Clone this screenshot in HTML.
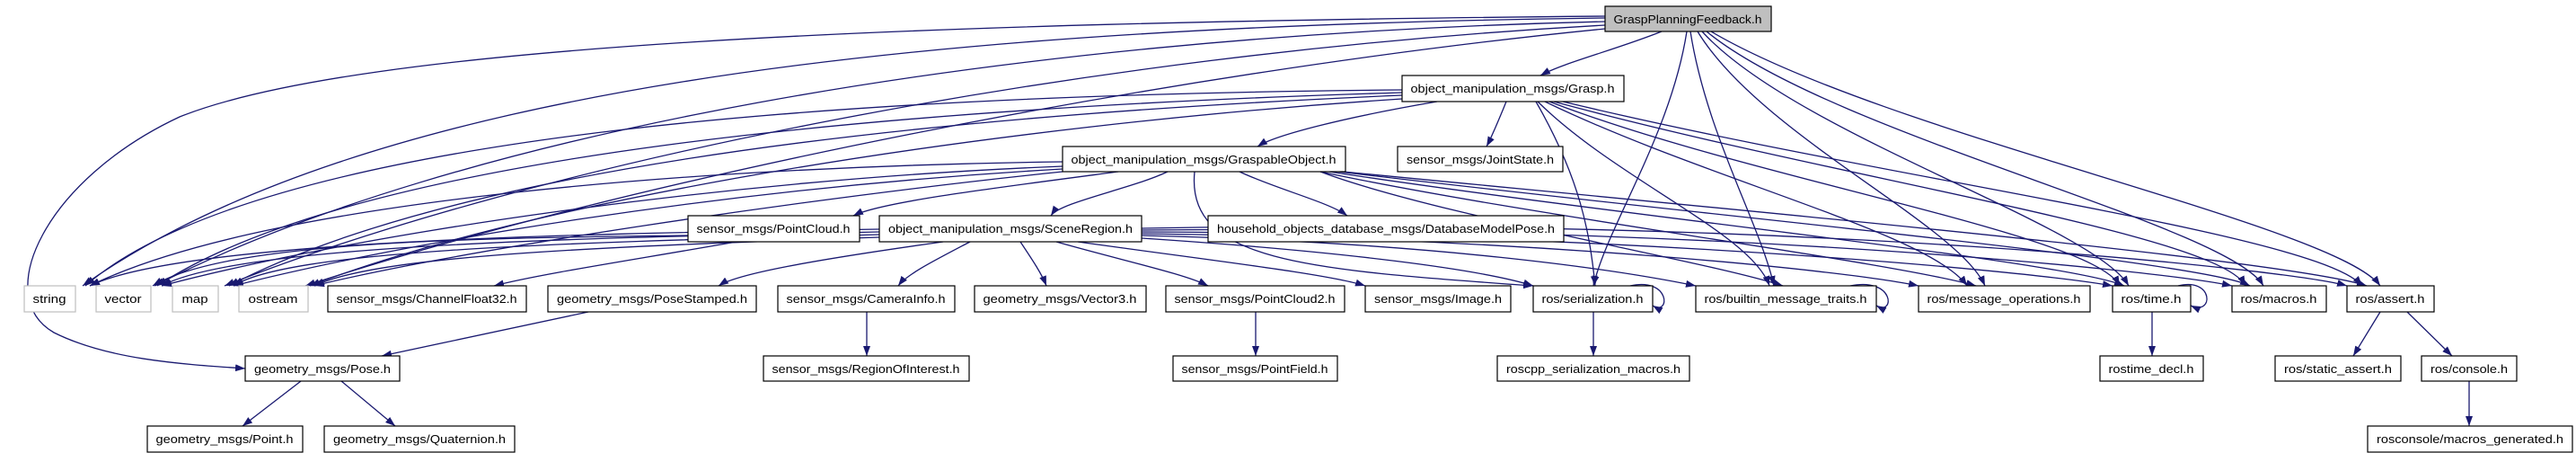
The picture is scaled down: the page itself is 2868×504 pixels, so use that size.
<!DOCTYPE html>
<html><head><meta charset="utf-8"><style>
html,body{margin:0;padding:0;background:#fff;}
svg{display:block}
text{font-family:"Liberation Sans",sans-serif;font-size:13px;fill:#000;}
</style></head><body>
<svg width="2868" height="504" viewBox="0 0 2868 504" xmlns="http://www.w3.org/2000/svg">
<defs>
<marker id="a" markerWidth="11" markerHeight="8" refX="11" refY="4" orient="auto" markerUnits="userSpaceOnUse"><path d="M0,0 L11,4 L0,8 z" fill="#191970"/></marker>
</defs>
<g fill="none" stroke="#191970" stroke-width="1.3" marker-end="url(#a)">
<!-- root -->
<path d="M1850,35 C1800,55 1740,70 1715,84"/>
<path d="M1878,35 C1860,150 1790,250 1774,318"/>
<path d="M1882,35 C1900,150 1960,250 1975,318"/>
<path d="M1890,35 C1960,150 2180,250 2210,318"/>
<path d="M1895,35 C2000,150 2330,250 2370,318"/>
<path d="M1900,35 C2040,150 2480,250 2520,318"/>
<path d="M1905,35 C2100,150 2600,250 2650,318"/>
<path d="M1787,20 C1000,30 400,100 92,318"/>
<path d="M1787,24 C1100,40 500,150 172,318"/>
<path d="M1787,28 C1200,60 600,180 250,318"/>
<path d="M1787,32 C1300,80 700,200 340,318"/>
<path d="M1787,18 C1000,25 400,50 200,130 C50,200 -10,330 60,370 C120,400 200,405 273,410"/>
<!-- grasp -->
<path d="M1600,113 C1500,130 1420,150 1400,163"/>
<path d="M1677,113 C1670,130 1662,150 1655,163"/>
<path d="M1561,100 C1000,105 300,140 95,318"/>
<path d="M1561,103 C1000,120 400,170 175,318"/>
<path d="M1561,106 C1000,130 500,190 255,318"/>
<path d="M1561,110 C1100,140 600,220 345,318"/>
<path d="M1710,113 C1760,200 1770,260 1776,318"/>
<path d="M1712,113 C1800,200 1950,260 1970,318"/>
<path d="M1720,113 C1900,200 2150,260 2190,318"/>
<path d="M1725,113 C1950,200 2330,260 2360,318"/>
<path d="M1730,113 C2050,200 2470,260 2500,318"/>
<path d="M1740,113 C2100,200 2580,260 2630,318"/>
<!-- graspable -->
<path d="M1245,191 C1100,210 980,225 950,240"/>
<path d="M1300,191 C1260,210 1180,225 1170,240"/>
<path d="M1380,191 C1420,210 1480,225 1500,240"/>
<path d="M1183,180 C800,185 300,220 100,318"/>
<path d="M1183,185 C800,200 400,260 180,318"/>
<path d="M1183,188 C800,210 450,270 260,318"/>
<path d="M1183,191 C900,220 500,280 350,318"/>
<path d="M1330,191 C1320,290 1450,300 1707,318"/>
<path d="M1470,191 C1600,240 1900,290 1985,318"/>
<path d="M1470,191 C1700,240 2100,290 2200,318"/>
<path d="M1480,191 C1800,240 2300,290 2365,318"/>
<path d="M1490,191 C1900,240 2450,290 2505,318"/>
<path d="M1495,191 C2000,240 2550,290 2635,318"/>
<!-- scene -->
<path d="M979,255 C600,260 200,270 100,318"/>
<path d="M979,258 C600,265 260,275 180,318"/>
<path d="M979,261 C600,270 320,280 260,318"/>
<path d="M979,264 C650,275 420,285 350,318"/>
<path d="M1050,269 C900,290 820,305 800,318"/>
<path d="M1080,269 C1040,290 1010,305 1000,318"/>
<path d="M1136,269 C1150,290 1160,305 1165,318"/>
<path d="M1176,269 C1250,290 1320,305 1345,318"/>
<path d="M1200,269 C1350,290 1480,305 1520,318"/>
<path d="M1271,265 C1500,280 1650,300 1707,318"/>
<path d="M1271,262 C1600,270 1800,300 1888,318"/>
<path d="M1271,260 C1700,265 2050,300 2136,318"/>
<path d="M1271,258 C1800,260 2250,300 2352,318"/>
<path d="M1271,256 C1900,250 2400,300 2485,318"/>
<path d="M1271,254 C2000,240 2550,300 2613,318"/>
<!-- pointcloud -->
<path d="M820,269 C700,290 600,305 550,318"/>
<path d="M766,262 C500,265 250,270 170,318"/>
<!-- others -->
<path d="M655,347 L425,396"/>
<path d="M335,424 L270,474"/>
<path d="M380,424 L440,474"/>
<path d="M965,347 L965,396"/>
<path d="M1398,347 L1398,396"/>
<path d="M1774,347 L1774,396"/>
<path d="M2396,347 L2396,396"/>
<path d="M2650,347 L2620,396"/>
<path d="M2680,347 L2730,396"/>
<path d="M2749,424 L2749,474"/>
<path d="M1815,318 C1860,308 1860,352 1840,340"/>
<path d="M2060,318 C2110,308 2110,352 2089,340"/>
<path d="M2425,318 C2465,308 2465,352 2439,340"/>
</g>
<g stroke-width="1.2">
<!-- boxes: x,y,w,h -->
<rect x="1787" y="7" width="185" height="28" fill="#bfbfbf" stroke="#000"/>
<g fill="#fff" stroke="#000">
<rect x="1561" y="84" width="247" height="29"/>
<rect x="1183" y="163" width="315" height="28"/>
<rect x="1556" y="163" width="184" height="28"/>
<rect x="766" y="240" width="191" height="29"/>
<rect x="979" y="240" width="292" height="29"/>
<rect x="1345" y="240" width="396" height="29"/>
<rect x="365" y="318" width="221" height="29"/>
<rect x="610" y="318" width="232" height="29"/>
<rect x="866" y="318" width="197" height="29"/>
<rect x="1085" y="318" width="191" height="29"/>
<rect x="1298" y="318" width="199" height="29"/>
<rect x="1520" y="318" width="162" height="29"/>
<rect x="1707" y="318" width="133" height="29"/>
<rect x="1888" y="318" width="201" height="29"/>
<rect x="2136" y="318" width="191" height="29"/>
<rect x="2352" y="318" width="87" height="29"/>
<rect x="2485" y="318" width="105" height="29"/>
<rect x="2613" y="318" width="97" height="29"/>
<rect x="273" y="396" width="172" height="28"/>
<rect x="850" y="396" width="229" height="28"/>
<rect x="1306" y="396" width="183" height="28"/>
<rect x="1667" y="396" width="214" height="28"/>
<rect x="2338" y="396" width="115" height="28"/>
<rect x="2533" y="396" width="140" height="28"/>
<rect x="2696" y="396" width="106" height="28"/>
<rect x="164" y="474" width="173" height="29"/>
<rect x="361" y="474" width="212" height="29"/>
<rect x="2636" y="474" width="228" height="29"/>
</g>
<g fill="#fff" stroke="#bfbfbf">
<rect x="27" y="318" width="57" height="29"/>
<rect x="107" y="318" width="61" height="29"/>
<rect x="192" y="318" width="51" height="29"/>
<rect x="266" y="318" width="77" height="29"/>
</g>
</g>
<g text-anchor="middle">
<text x="1879" y="26" textLength="165" lengthAdjust="spacingAndGlyphs">GraspPlanningFeedback.h</text>
<text x="1684" y="103" textLength="227" lengthAdjust="spacingAndGlyphs">object_manipulation_msgs/Grasp.h</text>
<text x="1340" y="182" textLength="295" lengthAdjust="spacingAndGlyphs">object_manipulation_msgs/GraspableObject.h</text>
<text x="1648" y="182" textLength="164" lengthAdjust="spacingAndGlyphs">sensor_msgs/JointState.h</text>
<text x="861" y="259" textLength="171" lengthAdjust="spacingAndGlyphs">sensor_msgs/PointCloud.h</text>
<text x="1125" y="259" textLength="272" lengthAdjust="spacingAndGlyphs">object_manipulation_msgs/SceneRegion.h</text>
<text x="1543" y="259" textLength="376" lengthAdjust="spacingAndGlyphs">household_objects_database_msgs/DatabaseModelPose.h</text>
<text x="55" y="337" textLength="37" lengthAdjust="spacingAndGlyphs">string</text>
<text x="137" y="337" textLength="41" lengthAdjust="spacingAndGlyphs">vector</text>
<text x="217" y="337" textLength="29" lengthAdjust="spacingAndGlyphs">map</text>
<text x="304" y="337" textLength="55" lengthAdjust="spacingAndGlyphs">ostream</text>
<text x="475" y="337" textLength="201" lengthAdjust="spacingAndGlyphs">sensor_msgs/ChannelFloat32.h</text>
<text x="726" y="337" textLength="212" lengthAdjust="spacingAndGlyphs">geometry_msgs/PoseStamped.h</text>
<text x="964" y="337" textLength="177" lengthAdjust="spacingAndGlyphs">sensor_msgs/CameraInfo.h</text>
<text x="1180" y="337" textLength="171" lengthAdjust="spacingAndGlyphs">geometry_msgs/Vector3.h</text>
<text x="1397" y="337" textLength="179" lengthAdjust="spacingAndGlyphs">sensor_msgs/PointCloud2.h</text>
<text x="1601" y="337" textLength="142" lengthAdjust="spacingAndGlyphs">sensor_msgs/Image.h</text>
<text x="1773" y="337" textLength="113" lengthAdjust="spacingAndGlyphs">ros/serialization.h</text>
<text x="1988" y="337" textLength="181" lengthAdjust="spacingAndGlyphs">ros/builtin_message_traits.h</text>
<text x="2231" y="337" textLength="171" lengthAdjust="spacingAndGlyphs">ros/message_operations.h</text>
<text x="2395" y="337" textLength="67" lengthAdjust="spacingAndGlyphs">ros/time.h</text>
<text x="2537" y="337" textLength="85" lengthAdjust="spacingAndGlyphs">ros/macros.h</text>
<text x="2661" y="337" textLength="77" lengthAdjust="spacingAndGlyphs">ros/assert.h</text>
<text x="359" y="415" textLength="152" lengthAdjust="spacingAndGlyphs">geometry_msgs/Pose.h</text>
<text x="964" y="415" textLength="209" lengthAdjust="spacingAndGlyphs">sensor_msgs/RegionOfInterest.h</text>
<text x="1397" y="415" textLength="163" lengthAdjust="spacingAndGlyphs">sensor_msgs/PointField.h</text>
<text x="1774" y="415" textLength="194" lengthAdjust="spacingAndGlyphs">roscpp_serialization_macros.h</text>
<text x="2395" y="415" textLength="95" lengthAdjust="spacingAndGlyphs">rostime_decl.h</text>
<text x="2603" y="415" textLength="120" lengthAdjust="spacingAndGlyphs">ros/static_assert.h</text>
<text x="2749" y="415" textLength="86" lengthAdjust="spacingAndGlyphs">ros/console.h</text>
<text x="250" y="493" textLength="153" lengthAdjust="spacingAndGlyphs">geometry_msgs/Point.h</text>
<text x="467" y="493" textLength="192" lengthAdjust="spacingAndGlyphs">geometry_msgs/Quaternion.h</text>
<text x="2750" y="493" textLength="208" lengthAdjust="spacingAndGlyphs">rosconsole/macros_generated.h</text>
</g>
</svg>
</body></html>
